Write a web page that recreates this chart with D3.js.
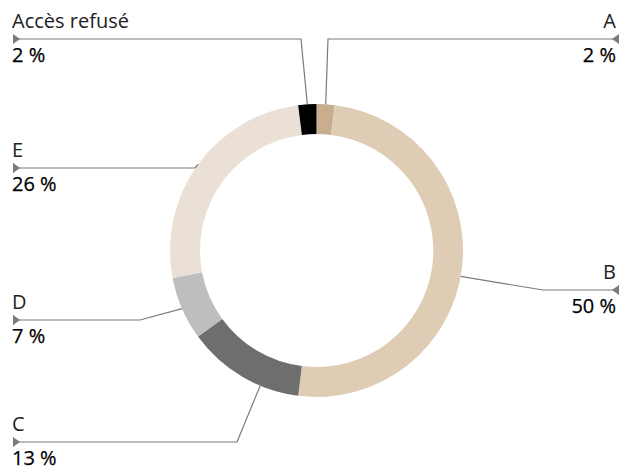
<!DOCTYPE html>
<html>
<head>
<meta charset="utf-8">
<script src="https://cdn.jsdelivr.net/npm/d3@7"></script>
<style>
  body { margin: 0; background: #fff; }
  svg { display: block; }
  .lbl-name { font-family: 'Open Sans', sans-serif; font-weight: 400; font-size: 20px; fill: #222; }
  .lbl-val { font-family: 'Open Sans', sans-serif; font-weight: 400; font-size: 20px; fill: #000; stroke: #000; stroke-width: 0.25px; }
</style>
</head>
<body>
<div id="chart"></div>
<script>

// Data
const categories = ['A', 'B', 'C', 'D', 'E', 'Accès refusé']
const shares = [2, 50, 13, 7, 26, 2]
const value_labels = ['2 %', '50 %', '13 %', '7 %', '26 %', '2 %']
const colors = ['#c8ae8e', '#dfccb4', '#6e6e6e', '#bebebe', '#ebe0d5', '#000000']

// Layout
const W = 619, H = 471
const cx = 316.5, cy = 250.5
const r_out = 146.5, r_in = 116.5

// label layout: side, y of leader line, elbow x, angle tweak (deg)
const label_layout = [
  { side: 'right', y: 39, elbow: 328, tweak: 0 },
  { side: 'right', y: 290, elbow: 543, tweak: 3 },
  { side: 'left', y: 442, elbow: 237, tweak: -8 },
  { side: 'left', y: 320, elbow: 140, tweak: 0 },
  { side: 'left', y: 168, elbow: 195, tweak: 0 },
  { side: 'left', y: 39, elbow: 301, tweak: 0 }
]

let svg = d3.select('#chart')
  .append('svg')
  .attr('width', W)
  .attr('height', H)

let pie = d3.pie()
  .sort(null)
  .value(d => d)

let arcs = pie(shares)

let arc = d3.arc()
  .innerRadius(r_in)
  .outerRadius(r_out)

let ring = svg.append('g')
  .attr('transform', `translate(${cx},${cy})`)

ring.selectAll('path')
  .data(arcs)
  .enter()
  .append('path')
    .attr('d', arc)
    .attr('fill', (d, i) => colors[i])

// Leader lines and labels
let labels = svg.append('g')

arcs.forEach(function (a, i) {
  let lay = label_layout[i]
  let mid = (a.startAngle + a.endAngle) / 2 + lay.tweak * Math.PI / 180
  let ax = cx + r_out * Math.sin(mid)
  let ay = cy - r_out * Math.cos(mid)
  let endx = lay.side === 'left' ? 13 : 613

  labels.append('polyline')
    .attr('points', `${ax},${ay} ${lay.elbow},${lay.y} ${endx},${lay.y}`)
    .attr('fill', 'none')
    .attr('stroke', '#7a7a7a')
    .attr('stroke-width', 1.2)

  // small triangle at the outer end
  let tri = lay.side === 'left'
    ? `${endx},${lay.y - 5} ${endx + 7},${lay.y} ${endx},${lay.y + 5}`
    : `${endx + 6},${lay.y - 5} ${endx - 1},${lay.y} ${endx + 6},${lay.y + 5}`
  labels.append('polygon')
    .attr('points', tri)
    .attr('fill', '#7a7a7a')

  let tx = lay.side === 'left' ? 12 : 616
  let anchor = lay.side === 'left' ? 'start' : 'end'

  labels.append('text')
    .attr('class', 'lbl-name')
    .attr('x', tx)
    .attr('y', lay.y - 11)
    .attr('text-anchor', anchor)
    .text(categories[i])

  labels.append('text')
    .attr('class', 'lbl-val')
    .attr('x', tx)
    .attr('y', lay.y + 23)
    .attr('text-anchor', anchor)
    .text(value_labels[i])
})

</script>
</body>
</html>
